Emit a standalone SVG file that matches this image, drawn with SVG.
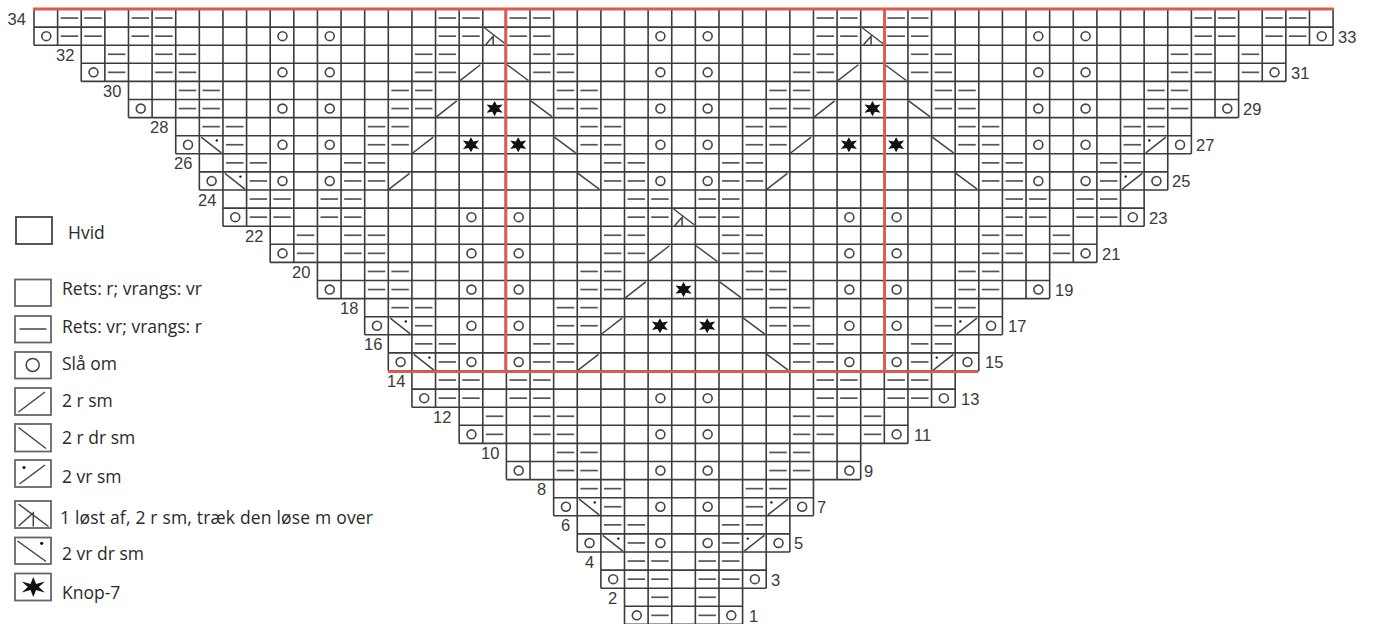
<svg xmlns="http://www.w3.org/2000/svg" width="1373" height="624" viewBox="0 0 1373 624">
<style>
text{font-family:"Liberation Sans",Arial,sans-serif;font-size:16.5px;fill:#3a3a3a}
.lt{font-family:"Open Sans","Noto Sans",sans-serif;font-size:17.5px;fill:#2a2a2a}
.s{vector-effect:non-scaling-stroke;fill:none;stroke:#444;stroke-width:1.5}
.c{vector-effect:non-scaling-stroke;fill:none;stroke:#454545;stroke-width:1.6}
.h{vector-effect:non-scaling-stroke;fill:none;stroke:#555;stroke-width:1.7}
.f{fill:#111}
.grid{vector-effect:non-scaling-stroke;fill:none;stroke:#3c3c3c;stroke-width:1.6}
.red{fill:none;stroke:#df5a4b;stroke-width:2.8}
.box{fill:#fff;stroke:#666;stroke-width:1.8}
.lg{fill:none;stroke:#444;stroke-width:1.5}
</style>
<defs>
<path id="d" class="h" d="M.13 .5H.87"/>
<ellipse id="o" class="c" cx=".52" cy=".5" rx=".19" ry=".245"/>
<path id="s" class="s" d="M.02 .97L.9 .08"/>
<path id="b" class="s" d="M.03 .08L.93 .95"/>
<g id="bd"><path class="s" d="M.08 .08L.93 .95"/><ellipse class="f" cx=".74" cy=".26" rx=".05" ry=".065"/></g>
<g id="sd"><path class="s" d="M.07 .95L.92 .08"/><ellipse class="f" cx=".22" cy=".26" rx=".05" ry=".065"/></g>
<g id="k"><path class="s" d="M.08 .05L.95 .92M.12 .97L.44 .5V.97"/></g>
<path id="t" class="f" d="M.5 .08L.6 .32L.84 .27L.69 .5L.84 .73L.6 .68L.5 .92L.4 .68L.16 .73L.31 .5L.16 .27L.4 .32Z"/>
</defs>
<rect width="1373" height="624" fill="#fff"/>
<g id="chart" transform="translate(34 9) scale(23.62 18.1)">
<path id="grid" class="grid" d="M0 0H55M0 1H55M0 2H55M2 3H53M2 4H53M4 5H51M4 6H51M6 7H49M6 8H49M7 9H48M7 10H48M8 11H47M8 12H47M10 13H45M10 14H45M12 15H43M12 16H43M14 17H41M14 18H41M15 19H40M15 20H40M16 21H39M16 22H39M18 23H37M18 24H37M20 25H35M20 26H35M22 27H33M22 28H33M23 29H32M23 30H32M24 31H31M24 32H31M25 33H30M25 34H30M0 0V2M1 0V2M2 0V4M3 0V4M4 0V6M5 0V6M6 0V8M7 0V10M8 0V12M9 0V12M10 0V14M11 0V14M12 0V16M13 0V16M14 0V18M15 0V20M16 0V22M17 0V22M18 0V24M19 0V24M20 0V26M21 0V26M22 0V28M23 0V30M24 0V32M25 0V34M26 0V34M27 0V34M28 0V34M29 0V34M30 0V34M31 0V32M32 0V30M33 0V28M34 0V26M35 0V26M36 0V24M37 0V24M38 0V22M39 0V22M40 0V20M41 0V18M42 0V16M43 0V16M44 0V14M45 0V14M46 0V12M47 0V12M48 0V10M49 0V8M50 0V6M51 0V6M52 0V4M53 0V4M54 0V2M55 0V2"/>
<g id="r34"><use href="#d" x="1"/><use href="#d" x="2"/><use href="#d" x="4"/><use href="#d" x="5"/><use href="#d" x="17"/><use href="#d" x="18"/><use href="#d" x="20"/><use href="#d" x="21"/><use href="#d" x="33"/><use href="#d" x="34"/><use href="#d" x="36"/><use href="#d" x="37"/><use href="#d" x="49"/><use href="#d" x="50"/><use href="#d" x="52"/><use href="#d" x="53"/></g>
<g id="r33" transform="translate(0 1)"><use href="#d" x="1"/><use href="#d" x="2"/><use href="#d" x="4"/><use href="#d" x="5"/><use href="#d" x="17"/><use href="#d" x="18"/><use href="#d" x="20"/><use href="#d" x="21"/><use href="#d" x="33"/><use href="#d" x="34"/><use href="#d" x="36"/><use href="#d" x="37"/><use href="#d" x="49"/><use href="#d" x="50"/><use href="#d" x="52"/><use href="#d" x="53"/><use href="#o" x="0"/><use href="#o" x="10"/><use href="#o" x="12"/><use href="#o" x="26"/><use href="#o" x="28"/><use href="#o" x="42"/><use href="#o" x="44"/><use href="#o" x="54"/><use href="#k" x="19"/><use href="#k" x="35"/></g>
<g id="r32" transform="translate(0 2)"><use href="#d" x="3"/><use href="#d" x="5"/><use href="#d" x="6"/><use href="#d" x="16"/><use href="#d" x="17"/><use href="#d" x="21"/><use href="#d" x="22"/><use href="#d" x="32"/><use href="#d" x="33"/><use href="#d" x="37"/><use href="#d" x="38"/><use href="#d" x="48"/><use href="#d" x="49"/><use href="#d" x="51"/></g>
<g id="r31" transform="translate(0 3)"><use href="#d" x="3"/><use href="#d" x="5"/><use href="#d" x="6"/><use href="#d" x="16"/><use href="#d" x="17"/><use href="#d" x="21"/><use href="#d" x="22"/><use href="#d" x="32"/><use href="#d" x="33"/><use href="#d" x="37"/><use href="#d" x="38"/><use href="#d" x="48"/><use href="#d" x="49"/><use href="#d" x="51"/><use href="#o" x="2"/><use href="#o" x="10"/><use href="#o" x="12"/><use href="#o" x="26"/><use href="#o" x="28"/><use href="#o" x="42"/><use href="#o" x="44"/><use href="#o" x="52"/><use href="#s" x="18"/><use href="#s" x="34"/><use href="#b" x="20"/><use href="#b" x="36"/></g>
<g id="r30" transform="translate(0 4)"><use href="#d" x="6"/><use href="#d" x="7"/><use href="#d" x="15"/><use href="#d" x="16"/><use href="#d" x="22"/><use href="#d" x="23"/><use href="#d" x="31"/><use href="#d" x="32"/><use href="#d" x="38"/><use href="#d" x="39"/><use href="#d" x="47"/><use href="#d" x="48"/></g>
<g id="r29" transform="translate(0 5)"><use href="#d" x="6"/><use href="#d" x="7"/><use href="#d" x="15"/><use href="#d" x="16"/><use href="#d" x="22"/><use href="#d" x="23"/><use href="#d" x="31"/><use href="#d" x="32"/><use href="#d" x="38"/><use href="#d" x="39"/><use href="#d" x="47"/><use href="#d" x="48"/><use href="#o" x="4"/><use href="#o" x="10"/><use href="#o" x="12"/><use href="#o" x="26"/><use href="#o" x="28"/><use href="#o" x="42"/><use href="#o" x="44"/><use href="#o" x="50"/><use href="#s" x="17"/><use href="#s" x="33"/><use href="#b" x="21"/><use href="#b" x="37"/><use href="#t" x="19"/><use href="#t" x="35"/></g>
<g id="r28" transform="translate(0 6)"><use href="#d" x="7"/><use href="#d" x="8"/><use href="#d" x="14"/><use href="#d" x="15"/><use href="#d" x="23"/><use href="#d" x="24"/><use href="#d" x="30"/><use href="#d" x="31"/><use href="#d" x="39"/><use href="#d" x="40"/><use href="#d" x="46"/><use href="#d" x="47"/></g>
<g id="r27" transform="translate(0 7)"><use href="#d" x="8"/><use href="#d" x="14"/><use href="#d" x="15"/><use href="#d" x="23"/><use href="#d" x="24"/><use href="#d" x="30"/><use href="#d" x="31"/><use href="#d" x="39"/><use href="#d" x="40"/><use href="#d" x="46"/><use href="#o" x="6"/><use href="#o" x="10"/><use href="#o" x="12"/><use href="#o" x="26"/><use href="#o" x="28"/><use href="#o" x="42"/><use href="#o" x="44"/><use href="#o" x="48"/><use href="#bd" x="7"/><use href="#sd" x="47"/><use href="#s" x="16"/><use href="#s" x="32"/><use href="#b" x="22"/><use href="#b" x="38"/><use href="#t" x="18"/><use href="#t" x="20"/><use href="#t" x="34"/><use href="#t" x="36"/></g>
<g id="r26" transform="translate(0 8)"><use href="#d" x="8"/><use href="#d" x="9"/><use href="#d" x="13"/><use href="#d" x="14"/><use href="#d" x="24"/><use href="#d" x="25"/><use href="#d" x="29"/><use href="#d" x="30"/><use href="#d" x="40"/><use href="#d" x="41"/><use href="#d" x="45"/><use href="#d" x="46"/></g>
<g id="r25" transform="translate(0 9)"><use href="#d" x="9"/><use href="#d" x="13"/><use href="#d" x="14"/><use href="#d" x="24"/><use href="#d" x="25"/><use href="#d" x="29"/><use href="#d" x="30"/><use href="#d" x="40"/><use href="#d" x="41"/><use href="#d" x="45"/><use href="#o" x="7"/><use href="#o" x="10"/><use href="#o" x="12"/><use href="#o" x="26"/><use href="#o" x="28"/><use href="#o" x="42"/><use href="#o" x="44"/><use href="#o" x="47"/><use href="#bd" x="8"/><use href="#sd" x="46"/><use href="#s" x="15"/><use href="#s" x="31"/><use href="#b" x="23"/><use href="#b" x="39"/></g>
<g id="r24" transform="translate(0 10)"><use href="#d" x="9"/><use href="#d" x="10"/><use href="#d" x="12"/><use href="#d" x="13"/><use href="#d" x="25"/><use href="#d" x="26"/><use href="#d" x="28"/><use href="#d" x="29"/><use href="#d" x="41"/><use href="#d" x="42"/><use href="#d" x="44"/><use href="#d" x="45"/></g>
<g id="r23" transform="translate(0 11)"><use href="#d" x="9"/><use href="#d" x="10"/><use href="#d" x="12"/><use href="#d" x="13"/><use href="#d" x="25"/><use href="#d" x="26"/><use href="#d" x="28"/><use href="#d" x="29"/><use href="#d" x="41"/><use href="#d" x="42"/><use href="#d" x="44"/><use href="#d" x="45"/><use href="#o" x="8"/><use href="#o" x="18"/><use href="#o" x="20"/><use href="#o" x="34"/><use href="#o" x="36"/><use href="#o" x="46"/><use href="#k" x="27"/></g>
<g id="r22" transform="translate(0 12)"><use href="#d" x="11"/><use href="#d" x="13"/><use href="#d" x="14"/><use href="#d" x="24"/><use href="#d" x="25"/><use href="#d" x="29"/><use href="#d" x="30"/><use href="#d" x="40"/><use href="#d" x="41"/><use href="#d" x="43"/></g>
<g id="r21" transform="translate(0 13)"><use href="#d" x="11"/><use href="#d" x="13"/><use href="#d" x="14"/><use href="#d" x="24"/><use href="#d" x="25"/><use href="#d" x="29"/><use href="#d" x="30"/><use href="#d" x="40"/><use href="#d" x="41"/><use href="#d" x="43"/><use href="#o" x="10"/><use href="#o" x="18"/><use href="#o" x="20"/><use href="#o" x="34"/><use href="#o" x="36"/><use href="#o" x="44"/><use href="#s" x="26"/><use href="#b" x="28"/></g>
<g id="r20" transform="translate(0 14)"><use href="#d" x="14"/><use href="#d" x="15"/><use href="#d" x="23"/><use href="#d" x="24"/><use href="#d" x="30"/><use href="#d" x="31"/><use href="#d" x="39"/><use href="#d" x="40"/></g>
<g id="r19" transform="translate(0 15)"><use href="#d" x="14"/><use href="#d" x="15"/><use href="#d" x="23"/><use href="#d" x="24"/><use href="#d" x="30"/><use href="#d" x="31"/><use href="#d" x="39"/><use href="#d" x="40"/><use href="#o" x="12"/><use href="#o" x="18"/><use href="#o" x="20"/><use href="#o" x="34"/><use href="#o" x="36"/><use href="#o" x="42"/><use href="#s" x="25"/><use href="#b" x="29"/><use href="#t" x="27"/></g>
<g id="r18" transform="translate(0 16)"><use href="#d" x="15"/><use href="#d" x="16"/><use href="#d" x="22"/><use href="#d" x="23"/><use href="#d" x="31"/><use href="#d" x="32"/><use href="#d" x="38"/><use href="#d" x="39"/></g>
<g id="r17" transform="translate(0 17)"><use href="#d" x="16"/><use href="#d" x="22"/><use href="#d" x="23"/><use href="#d" x="31"/><use href="#d" x="32"/><use href="#d" x="38"/><use href="#o" x="14"/><use href="#o" x="18"/><use href="#o" x="20"/><use href="#o" x="34"/><use href="#o" x="36"/><use href="#o" x="40"/><use href="#bd" x="15"/><use href="#sd" x="39"/><use href="#s" x="24"/><use href="#b" x="30"/><use href="#t" x="26"/><use href="#t" x="28"/></g>
<g id="r16" transform="translate(0 18)"><use href="#d" x="16"/><use href="#d" x="17"/><use href="#d" x="21"/><use href="#d" x="22"/><use href="#d" x="32"/><use href="#d" x="33"/><use href="#d" x="37"/><use href="#d" x="38"/></g>
<g id="r15" transform="translate(0 19)"><use href="#d" x="17"/><use href="#d" x="21"/><use href="#d" x="22"/><use href="#d" x="32"/><use href="#d" x="33"/><use href="#d" x="37"/><use href="#o" x="15"/><use href="#o" x="18"/><use href="#o" x="20"/><use href="#o" x="34"/><use href="#o" x="36"/><use href="#o" x="39"/><use href="#bd" x="16"/><use href="#sd" x="38"/><use href="#s" x="23"/><use href="#b" x="31"/></g>
<g id="r14" transform="translate(0 20)"><use href="#d" x="17"/><use href="#d" x="18"/><use href="#d" x="20"/><use href="#d" x="21"/><use href="#d" x="33"/><use href="#d" x="34"/><use href="#d" x="36"/><use href="#d" x="37"/></g>
<g id="r13" transform="translate(0 21)"><use href="#d" x="17"/><use href="#d" x="18"/><use href="#d" x="20"/><use href="#d" x="21"/><use href="#d" x="33"/><use href="#d" x="34"/><use href="#d" x="36"/><use href="#d" x="37"/><use href="#o" x="16"/><use href="#o" x="26"/><use href="#o" x="28"/><use href="#o" x="38"/></g>
<g id="r12" transform="translate(0 22)"><use href="#d" x="19"/><use href="#d" x="21"/><use href="#d" x="22"/><use href="#d" x="32"/><use href="#d" x="33"/><use href="#d" x="35"/></g>
<g id="r11" transform="translate(0 23)"><use href="#d" x="19"/><use href="#d" x="21"/><use href="#d" x="22"/><use href="#d" x="32"/><use href="#d" x="33"/><use href="#d" x="35"/><use href="#o" x="18"/><use href="#o" x="26"/><use href="#o" x="28"/><use href="#o" x="36"/></g>
<g id="r10" transform="translate(0 24)"><use href="#d" x="22"/><use href="#d" x="23"/><use href="#d" x="31"/><use href="#d" x="32"/></g>
<g id="r9" transform="translate(0 25)"><use href="#d" x="22"/><use href="#d" x="23"/><use href="#d" x="31"/><use href="#d" x="32"/><use href="#o" x="20"/><use href="#o" x="26"/><use href="#o" x="28"/><use href="#o" x="34"/></g>
<g id="r8" transform="translate(0 26)"><use href="#d" x="23"/><use href="#d" x="24"/><use href="#d" x="30"/><use href="#d" x="31"/></g>
<g id="r7" transform="translate(0 27)"><use href="#d" x="24"/><use href="#d" x="30"/><use href="#o" x="22"/><use href="#o" x="26"/><use href="#o" x="28"/><use href="#o" x="32"/><use href="#bd" x="23"/><use href="#sd" x="31"/></g>
<g id="r6" transform="translate(0 28)"><use href="#d" x="24"/><use href="#d" x="25"/><use href="#d" x="29"/><use href="#d" x="30"/></g>
<g id="r5" transform="translate(0 29)"><use href="#d" x="25"/><use href="#d" x="29"/><use href="#o" x="23"/><use href="#o" x="26"/><use href="#o" x="28"/><use href="#o" x="31"/><use href="#bd" x="24"/><use href="#sd" x="30"/></g>
<g id="r4" transform="translate(0 30)"><use href="#d" x="25"/><use href="#d" x="26"/><use href="#d" x="28"/><use href="#d" x="29"/></g>
<g id="r3" transform="translate(0 31)"><use href="#d" x="25"/><use href="#d" x="26"/><use href="#d" x="28"/><use href="#d" x="29"/><use href="#o" x="24"/><use href="#o" x="30"/></g>
<g id="r2" transform="translate(0 32)"><use href="#d" x="26"/><use href="#d" x="28"/></g>
<g id="r1" transform="translate(0 33)"><use href="#d" x="26"/><use href="#d" x="28"/><use href="#o" x="25"/><use href="#o" x="29"/></g>
</g>
<path id="red-lines" class="red" d="M33 9H1334M505.6 9V372M884.6 9V372M388 371.6H978"/>
<g id="row-numbers">
<text x="7.5" y="24.5">34</text><text x="56" y="60.7">32</text><text x="103" y="97">30</text><text x="150" y="133.1">28</text><text x="174" y="169.3">26</text><text x="198" y="205.5">24</text><text x="245" y="241.7">22</text><text x="292" y="277.9">20</text><text x="340" y="314.1">18</text><text x="364" y="350.3">16</text><text x="387" y="386.5">14</text><text x="433" y="422.7">12</text><text x="481" y="458.9">10</text><text x="537" y="495.1">8</text><text x="561" y="531.3">6</text><text x="585" y="567.5">4</text><text x="608" y="603.7">2</text>
<text x="1338" y="42.6">33</text><text x="1291" y="78.8">31</text><text x="1243" y="115">29</text><text x="1196" y="151.2">27</text><text x="1172" y="187.4">25</text><text x="1149" y="223.6">23</text><text x="1102" y="259.8">21</text><text x="1055" y="296">19</text><text x="1008" y="332.2">17</text><text x="985" y="368.4">15</text><text x="961" y="404.6">13</text><text x="914" y="440.8">11</text><text x="864" y="477">9</text><text x="817" y="513.2">7</text><text x="794" y="549.4">5</text><text x="771" y="585.6">3</text><text x="749" y="621.8">1</text>
</g>
<g id="legend">
<g id="lg-hvid"><rect class="box" x="16" y="217" width="36" height="27" style="stroke:#444"/><text class="lt" x="68" y="239">Hvid</text></g>
<g id="lg-r"><rect class="box" x="15" y="279.5" width="36" height="26.5"/><text class="lt" x="62" y="295">Rets: r; vrangs: vr</text></g>
<g id="lg-vr"><rect class="box" x="15" y="316" width="36" height="26.5"/><path class="lg" d="M19.5 329H46.5"/><text class="lt" x="62" y="333">Rets: vr; vrangs: r</text></g>
<g id="lg-o"><rect class="box" x="15" y="352" width="36" height="26.5"/><circle class="lg" cx="32.7" cy="365" r="6.5"/><text class="lt" x="62" y="370">Slå om</text></g>
<g id="lg-2rsm"><rect class="box" x="15" y="388" width="36" height="27"/><path class="lg" d="M18.5 412L45 392"/><text class="lt" x="62" y="406.5">2 r sm</text></g>
<g id="lg-2rdrsm"><rect class="box" x="15" y="424" width="36" height="27.5"/><path class="lg" d="M18.5 427.5L46 448.5"/><text class="lt" x="62" y="444">2 r dr sm</text></g>
<g id="lg-2vrsm"><rect class="box" x="15" y="460" width="36" height="27"/><path class="lg" d="M19.5 484L45 465"/><circle class="f" cx="24" cy="467.5" r="1.5"/><text class="lt" x="62" y="482.5">2 vr sm</text></g>
<g id="lg-k"><rect class="box" x="15" y="501" width="36" height="27"/><path class="lg" d="M18.5 504L48.5 526.5M18.5 526L33.3 513V526.5"/><text class="lt" x="60" y="524" textLength="313">1 løst af, 2 r sm, træk den løse m over</text></g>
<g id="lg-2vrdrsm"><rect class="box" x="15" y="537.5" width="36" height="26.5"/><path class="lg" d="M17.5 541L46 561.5"/><circle class="f" cx="41.7" cy="543.3" r="1.6"/><text class="lt" x="62" y="560">2 vr dr sm</text></g>
<g id="lg-knop"><rect class="box" x="15" y="573.5" width="36" height="27"/><path class="f" transform="translate(33.3 587)" d="M0 -10L2.8 -3L11.5 -5.5L5.5 0L11.5 5.5L2.8 3L0 10L-2.8 3L-11.5 5.5L-5.5 0L-11.5 -5.5L-2.8 -3Z"/><text class="lt" x="62" y="599">Knop-7</text></g>
</g>
</svg>
